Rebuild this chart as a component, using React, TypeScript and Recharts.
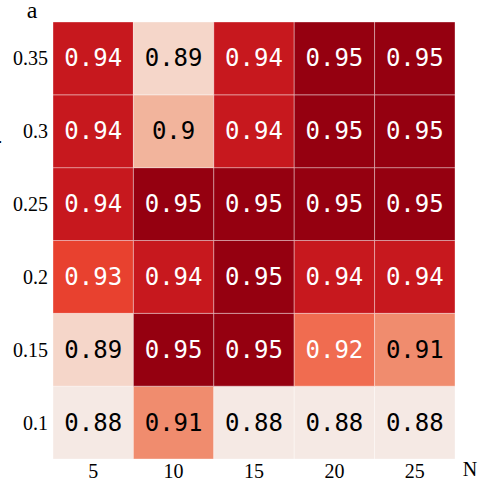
import React from "react";
import { ComposedChart, XAxis, YAxis, Scatter, ReferenceArea } from "recharts";

const xLabels = ["5", "10", "15", "20", "25"];
const yLabels = ["0.1", "0.15", "0.2", "0.25", "0.3", "0.35"];
// rows from bottom (0.1) to top (0.35)
const row010 = [0.88, 0.91, 0.88, 0.88, 0.88];
const row015 = [0.89, 0.95, 0.95, 0.92, 0.91];
const row020 = [0.93, 0.94, 0.95, 0.94, 0.94];
const row025 = [0.94, 0.95, 0.95, 0.95, 0.95];
const row030 = [0.94, 0.9, 0.94, 0.95, 0.95];
const row035 = [0.94, 0.89, 0.94, 0.95, 0.95];
const rows = [row010, row015, row020, row025, row030, row035];

const colorFor = (v: number) => {
  if (v >= 0.95) return "#950010";
  if (v >= 0.94) return "#c7181e";
  if (v >= 0.93) return "#e8412f";
  if (v >= 0.92) return "#f06c50";
  if (v >= 0.91) return "#f08c6e";
  if (v >= 0.9) return "#f2b49c";
  if (v >= 0.89) return "#f5d6c9";
  return "#f5e9e4";
};
const textColorFor = (v: number) => (v >= 0.92 ? "#ffffff" : "#000000");

const cells = rows.flatMap((r, j) =>
  r.map((v, i) => ({ x: i + 0.5, y: j + 0.5, i, j, v }))
);

const serif = "'Liberation Serif', serif";
const mono = "'DejaVu Sans Mono', monospace";

const TextShape = (props: any) => {
  const { cx, cy, payload } = props;
  return (
    <text
      x={cx}
      y={cy}
      textAnchor="middle"
      dominantBaseline="central"
      fontFamily={mono}
      fontSize={24}
      fill={textColorFor(payload.v)}
    >
      {payload.v}
    </text>
  );
};

const XTick = (props: any) => {
  const { x, payload } = props;
  return (
    <text x={x} y={478} textAnchor="middle" fontFamily={serif} fontSize={20} fill="#000">
      {xLabels[Math.floor(payload.value)]}
    </text>
  );
};

const YTick = (props: any) => {
  const { y, payload } = props;
  return (
    <text x={48} y={y + 7} textAnchor="end" fontFamily={serif} fontSize={20} fill="#000">
      {yLabels[Math.floor(payload.value)]}
    </text>
  );
};

export default function App() {
  return (
    <div style={{ position: "absolute", left: 0, top: 0, width: 485, height: 485, background: "#fff" }}>
      <ComposedChart
        width={485}
        height={485}
        data={cells}
        margin={{ top: 22, right: 30, left: 0, bottom: 0 }}
      >
        <XAxis
          type="number"
          dataKey="x"
          domain={[0, 5]}
          ticks={[0.5, 1.5, 2.5, 3.5, 4.5]}
          axisLine={false}
          tickLine={false}
          height={26}
          tick={<XTick />}
          allowDataOverflow
        />
        <YAxis
          type="number"
          dataKey="y"
          domain={[0, 6]}
          ticks={[0.5, 1.5, 2.5, 3.5, 4.5, 5.5]}
          axisLine={false}
          tickLine={false}
          width={53}
          tick={<YTick />}
          allowDataOverflow
        />
        {cells.map((c) => (
          <ReferenceArea
            key={`${c.i}-${c.j}`}
            x1={c.i}
            x2={c.i + 1}
            y1={c.j}
            y2={c.j + 1}
            fill={colorFor(c.v)}
            fillOpacity={1}
            stroke="rgba(255,255,255,0.35)"
            strokeWidth={1}
            ifOverflow="visible"
          />
        ))}
        <Scatter dataKey="y" data={cells} shape={TextShape} isAnimationActive={false} />
      </ComposedChart>
      <svg width={485} height={485} style={{ position: "absolute", left: 0, top: 0, pointerEvents: "none" }}>
        <text x={32} y={18} textAnchor="middle" fontFamily={serif} fontSize={24} fill="#000">a</text>
        <text x={470} y={476} textAnchor="middle" fontFamily={serif} fontSize={20} fill="#000">N</text>
        <text x={-4} y={142} textAnchor="middle" fontFamily={serif} fontSize={20} fill="#000" transform="rotate(-90 -4 142)">γ</text>
      </svg>
    </div>
  );
}
